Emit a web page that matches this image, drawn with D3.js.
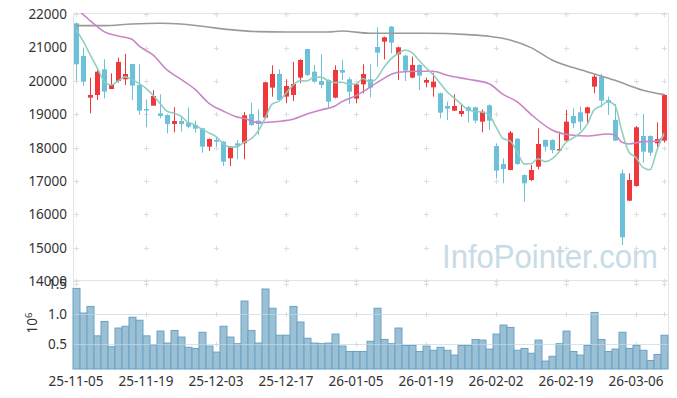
<!DOCTYPE html>
<html>
<head>
<meta charset="utf-8">
<script src="https://cdn.jsdelivr.net/npm/d3@7"></script>
<style>
  body { margin: 0; background: #fff; }
  text { font-family: "Noto Sans", sans-serif; }
</style>
</head>
<body>
<svg width="677" height="398"></svg>
<script>
// Fechas de negociación (índice = posición de la vela)
const dates = [
  "25-11-05","25-11-06","25-11-07","25-11-10","25-11-11","25-11-12","25-11-13","25-11-14","25-11-17","25-11-18",
  "25-11-19","25-11-20","25-11-21","25-11-24","25-11-25","25-11-26","25-11-27","25-11-28","25-12-01","25-12-02",
  "25-12-03","25-12-04","25-12-05","25-12-08","25-12-09","25-12-10","25-12-11","25-12-12","25-12-15","25-12-16",
  "25-12-17","25-12-18","25-12-19","25-12-22","25-12-23","25-12-24","25-12-26","25-12-29","25-12-30","26-01-02",
  "26-01-05","26-01-06","26-01-07","26-01-08","26-01-09","26-01-12","26-01-13","26-01-14","26-01-15","26-01-16",
  "26-01-19","26-01-20","26-01-21","26-01-22","26-01-23","26-01-26","26-01-27","26-01-28","26-01-29","26-01-30",
  "26-02-02","26-02-03","26-02-04","26-02-05","26-02-06","26-02-09","26-02-10","26-02-11","26-02-12","26-02-13",
  "26-02-19","26-02-20","26-02-23","26-02-24","26-02-25","26-02-26","26-02-27","26-03-03","26-03-04","26-03-05",
  "26-03-06","26-03-09","26-03-10","26-03-11","26-03-12"
];

// Precios (OHLC)
const opens = [
  21730,20750,19500,19580,20350,19760,20000,20050,20510,19880,
  19160,19260,19030,18980,18710,18800,18750,18680,18580,18030,
  18230,18180,17680,18130,18130,19010,18810,18900,19800,20210,
  19530,19580,20100,20960,20280,20000,20030,19500,20330,20050,
  19470,19900,20050,21020,21180,21630,20800,20760,20100,20480,
  19950,19810,19630,19250,19110,19010,19210,19210,18780,19270,
  18050,17510,17330,18270,17180,17030,17430,18230,18230,17930,
  18210,18950,19060,19030,19830,20130,19430,18830,17230,16410,
  16850,18350,18350,18130,18210
];
const highs = [
  21750,21000,20100,20330,20650,20230,20700,20810,20510,20500,
  19450,19730,19600,19000,19210,18950,19200,18810,18580,18280,
  18330,18200,18050,18230,19070,19350,19150,19980,20470,20350,
  20050,20570,20650,20960,20480,20800,20050,20470,20630,20110,
  19930,20500,20500,21610,21330,21650,21030,20780,20730,20500,
  20100,20250,19650,19380,19600,19280,19250,19230,19150,19300,
  18130,17680,18500,18280,17200,17480,18580,18250,18250,18480,
  19130,19180,19230,19230,20210,20210,19530,19310,17350,17230,
  18650,19010,18370,18760,19600
];
const lows = [
  20000,19850,19030,19430,19480,19760,19950,19880,19430,18980,
  18610,19260,18880,18430,18460,18480,18580,18450,17850,17900,
  18030,17450,17450,17650,17650,18650,18380,18880,19530,19400,
  19330,19400,19930,20150,19950,19780,19200,19480,20030,19310,
  19330,19630,19510,20430,20650,20830,20030,20000,20080,19730,
  19810,19530,18880,18830,19100,18930,18750,18730,18460,18530,
  17080,16930,17320,17480,16380,17000,17350,17880,17830,17880,
  18180,18580,18530,18730,19630,19210,18980,18200,15080,16400,
  16830,17550,17750,18010,18150
];
const closes = [
  20500,19980,19580,20280,19680,19880,20570,20210,19860,19110,
  19140,19550,18950,18710,18800,18710,18630,18570,18030,18260,
  18180,17580,18030,18060,18970,18680,18710,19960,20210,19430,
  19850,19910,20630,20180,19980,19880,19380,20330,20250,19680,
  19900,20210,19800,20850,21310,21150,21010,20310,20480,20160,
  20030,19980,19050,19170,19250,19100,19100,18810,19080,18810,
  17310,17360,18450,17510,16930,17330,18110,18030,17930,17960,
  18780,18730,18780,19210,20130,19410,19350,18210,15310,17030,
  18610,17880,17850,18260,19580
];

// Volumen (millones de acciones)
const volumes = [
  1.43,1.02,1.13,0.64,0.88,0.46,0.77,0.80,0.95,0.90,
  0.64,0.49,0.72,0.52,0.73,0.62,0.45,0.43,0.70,0.47,
  0.37,0.80,0.62,0.51,1.22,0.73,0.52,1.42,1.10,0.65,
  0.65,1.13,0.87,0.60,0.52,0.51,0.52,0.67,0.47,0.38,
  0.38,0.38,0.55,1.10,0.58,0.51,0.77,0.48,0.48,0.38,
  0.47,0.40,0.45,0.40,0.32,0.48,0.48,0.58,0.57,0.42,
  0.67,0.82,0.78,0.40,0.43,0.35,0.57,0.22,0.30,0.51,
  0.72,0.38,0.32,0.48,1.03,0.58,0.38,0.42,0.70,0.43,
  0.48,0.40,0.23,0.33,0.65
];

// Media móvil de 5 días
const ma5 = [
  21550,21200,20800,20400,20004,19880,19998,20124,20040,19926,
  19778,19574,19322,19092,19030,18944,18760,18684,18548,18440,
  18334,18124,18016,18022,18164,18264,18490,18876,19306,19398,
  19632,19872,20006,20000,20110,20116,20010,19950,19964,19904,
  19908,20074,19968,20088,20414,20664,20824,20926,20852,20622,
  20398,20192,19940,19678,19496,19310,19134,19086,19068,18980,
  18622,18274,18202,17888,17512,17516,17666,17582,17666,17872,
  18162,18286,18436,18692,19126,19252,19376,19262,18482,17862,
  17702,17408,17336,17926,18436
];

// Media móvil de 20 días: [índice, valor]
const ma20 = [
  [0,22150],[1,22000],[2,21810],[3,21640],[4,21480],[6,21350],[8,21250],[9,21050],
  [11,20780],[13,20330],[15,20050],[17,19750],[19,19330],[21,19100],[23,18920],[24,18880],
  [26,18750],[28,18770],[31,18850],[33,19010],[35,19130],[37,19250],[38,19380],[40,19560],
  [41,19680],[43,19950],[46,20260],[49,20290],[51,20290],[53,20170],[56,20050],[59,19920],
  [61,19600],[63,19380],[65,19000],[68,18530],[71,18370],[73,18350],[76,18410],[77,18380],
  [78,18160],[79,18110],[81,18180],[83,18190],[84,18370]
];

// Media móvil de 60 días: [índice, valor]
const ma60 = [
  [0,21660],[4,21660],[8,21710],[12,21730],[15,21710],[18,21640],[22,21540],[26,21480],
  [30,21470],[36,21470],[38,21500],[42,21430],[50,21430],[56,21390],[59,21340],[62,21230],
  [65,21000],[68,20630],[73,20280],[77,20020],[81,19720],[84,19590]
];

const priceTicks = [14000,15000,16000,17000,18000,19000,20000,21000,22000];
const volTicks = [0.5, 1.0, 1.5];
const dateTicks = [0,10,20,30,40,50,60,70,80];

const svg = d3.select("svg");

const plotLeft = 73, plotRight = 668, plotTop = 13, plotSplit = 280, plotBottom = 369;

// Escalas
const x = d3.scaleBand().domain(d3.range(dates.length)).range([plotLeft - 0.5, plotRight - 0.5]);
const xc = i => x(i) + x.bandwidth() / 2;
const y = d3.scaleLinear().domain([14000, 22000]).range([281, 14.3]);
const yv = d3.scaleLinear().domain([0.088, 1.57]).range([plotBottom, plotSplit]);

svg.append("clipPath").attr("id", "clipPrice")
  .append("rect").attr("x", plotLeft).attr("y", plotTop)
  .attr("width", plotRight - plotLeft).attr("height", plotSplit - plotTop);

// Marco
svg.append("g").attr("stroke", "#e4e4e4").attr("stroke-width", 1)
  .selectAll("line")
  .data([
    [plotLeft, plotTop + 0.5, plotRight, plotTop + 0.5],
    [plotLeft, plotSplit + 0.5, plotRight, plotSplit + 0.5],
    [plotLeft + 0.5, plotTop, plotLeft + 0.5, plotBottom],
    [plotRight + 0.5, plotTop, plotRight + 0.5, plotBottom]
  ])
  .enter().append("line")
  .attr("x1", d => d[0]).attr("y1", d => d[1])
  .attr("x2", d => d[2]).attr("y2", d => d[3]);

// Marcas "+" de la cuadrícula
const gridX = dateTicks.concat([dates.length - 1]);
const gridPts = [];
gridX.forEach(i => {
  priceTicks.forEach(p => gridPts.push([xc(i), y(p)]));
  volTicks.forEach(v => gridPts.push([xc(i), yv(v)]));
});
svg.append("g").attr("stroke", "#dedede").attr("stroke-width", 1)
  .selectAll("path")
  .data(gridPts)
  .enter().append("path")
  .attr("d", d => `M${Math.round(d[0]) - 2},${Math.round(d[1]) + 0.5}h5M${Math.round(d[0]) + 0.5},${Math.round(d[1]) - 2}v5`);

// Marca de agua
svg.append("text")
  .attr("x", 442).attr("y", 268)
  .attr("textLength", 216)
  .attr("lengthAdjust", "spacingAndGlyphs")
  .style("font-family", "'Liberation Sans', Arial, sans-serif")
  .style("font-size", "33px")
  .attr("fill", "#c8dce7")
  .text("InfoPointer.com");

// Barras de volumen
svg.append("g")
  .selectAll("rect")
  .data(volumes)
  .enter().append("rect")
  .attr("x", (d, i) => x(i) + 0.5)
  .attr("y", d => yv(d))
  .attr("width", x.bandwidth())
  .attr("height", d => plotBottom - yv(d))
  .attr("fill", "#9cc0d3")
  .attr("stroke", "#68a2c8")
  .attr("stroke-width", 1);

// Líneas claras sobre el volumen
svg.append("g").attr("stroke", "#c3dae7").attr("stroke-opacity", 0.7)
  .selectAll("line")
  .data([0.5, 1.0])
  .enter().append("line")
  .attr("x1", plotLeft + 1).attr("x2", plotRight)
  .attr("y1", d => Math.round(yv(d)) + 0.5).attr("y2", d => Math.round(yv(d)) + 0.5);

// Velas
const red = "#ef383b", blue = "#6bc2d8";
const candle = svg.append("g").attr("clip-path", "url(#clipPrice)")
  .selectAll("g")
  .data(d3.range(dates.length))
  .enter().append("g")
  .attr("fill", i => closes[i] >= opens[i] ? red : blue)
  .attr("stroke", i => closes[i] >= opens[i] ? red : blue);

candle.append("line")
  .attr("x1", i => Math.round(xc(i)) + 0.5).attr("x2", i => Math.round(xc(i)) + 0.5)
  .attr("y1", i => y(highs[i])).attr("y2", i => y(lows[i]))
  .attr("stroke-width", 1);

candle.append("rect")
  .attr("stroke", "none")
  .attr("x", i => Math.round(xc(i)) - 2)
  .attr("width", 5)
  .attr("y", i => y(Math.max(opens[i], closes[i])))
  .attr("height", i => Math.max(1.5, Math.abs(y(opens[i]) - y(closes[i]))));

// Medias móviles
const lineGen = d3.line().x(d => xc(d[0])).y(d => y(d[1])).curve(d3.curveMonotoneX);
const lines = svg.append("g").attr("clip-path", "url(#clipPrice)").attr("fill", "none");

lines.append("path")
  .attr("d", lineGen(ma60))
  .attr("stroke", "#9a9a9a").attr("stroke-width", 1.6);

lines.append("path")
  .attr("d", lineGen(ma20))
  .attr("stroke", "#c985c5").attr("stroke-width", 1.6);

lines.append("path")
  .attr("d", lineGen(ma5.map((v, i) => [i, v])))
  .attr("stroke", "#8acdbf").attr("stroke-width", 1.6)
  .attr("stroke-opacity", 0.95);

// Etiquetas del eje de precios
svg.append("g")
  .selectAll("text")
  .data(priceTicks)
  .enter().append("text")
  .attr("x", 67).attr("y", d => y(d))
  .attr("dy", "0.36em")
  .attr("text-anchor", "end")
  .attr("fill", "#333")
  .style("font-size", "13.5px")
  .text(d => d);

// Etiquetas del eje de volumen
svg.append("g")
  .selectAll("text")
  .data(volTicks)
  .enter().append("text")
  .attr("x", 67).attr("y", d => yv(d))
  .attr("dy", "0.36em")
  .attr("text-anchor", "end")
  .attr("fill", "#333")
  .style("font-size", "13.5px")
  .text(d => d.toFixed(1));

const unit = svg.append("text")
  .attr("transform", "translate(37,323) rotate(-90)")
  .attr("text-anchor", "middle")
  .attr("fill", "#333")
  .style("font-size", "13.5px");
unit.append("tspan").text("10");
unit.append("tspan").attr("dy", "-0.5em").style("font-size", "9.5px").text("6");

// Etiquetas de fechas
svg.append("g")
  .selectAll("text")
  .data(dateTicks)
  .enter().append("text")
  .attr("x", i => xc(i)).attr("y", 386)
  .attr("text-anchor", "middle")
  .attr("fill", "#333")
  .style("font-size", "13.5px")
  .text(i => dates[i]);
</script>
</body>
</html>
